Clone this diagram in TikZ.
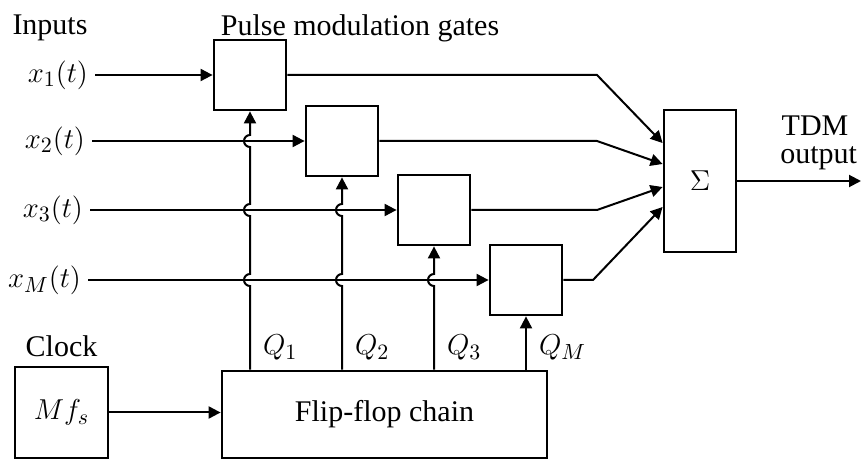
\documentclass[tikz,border=0pt]{standalone}
\usepackage{fontspec}
\setmainfont{Liberation Serif}
\usetikzlibrary{arrows.meta,calc,positioning}

\begin{document}
\begin{tikzpicture}[x=0.5pt,y=0.5pt,line join=miter,
  font=\fontsize{15}{17}\selectfont,
  gate/.style={draw,line width=1.4pt,minimum width=36pt,minimum height=35pt,inner sep=0pt},
  sig/.style={line width=1pt},
  tip/.style={-{Triangle[length=6pt,width=6pt]}}]
\path[use as bounding box] (0,0) rectangle (863,461);
\fill[white] (0,0) rectangle (863,461);

% headings
\node (inputs) at (50,433) {Inputs};
\node (pmg) at (360,433) {Pulse modulation gates};

% gates, one per input line
\node[gate] (g1) at (250,386) {};
\node[gate] (g2) at (342,320) {};
\node[gate] (g3) at (434,251) {};
\node[gate] (g4) at (526,181) {};
\node[gate,minimum height=71pt] (sum) at (700,280) {$\Sigma$};
\node[gate,minimum width=162.5pt,minimum height=43.5pt] (ff) at (384.5,46.5) {Flip-flop chain};
\node[gate,minimum width=46.5pt,minimum height=45.5pt] (clk) at (61.5,48.5) {$Mf_s$};
\node[above=1pt of clk] (clock) {Clock};

% inputs
\node[anchor=east] (x1) at (95,386) {$x_1(t)$};
\node[anchor=east] (x2) at (92,320) {$x_2(t)$};
\node[anchor=east] (x3) at (90,251) {$x_3(t)$};
\node[anchor=east] (xM) at (88,181) {$x_M(t)$};
\draw[sig,tip] (x1.east) -- (g1.west);
\draw[sig,tip] (x2.east) -- (g2.west);
\draw[sig,tip] (x3.east) -- (g3.west);
\draw[sig,tip] (xM.east) -- (g4.west);

% clock into the chain
\draw[sig,tip] (clk.east) -- (clk.east -| ff.west);

% gate pulses, hopping over the input lines
\draw[sig,tip] (g1.south |- ff.north)
  -- ($(g1.south |- xM)+(0,-6)$) arc[start angle=-90,end angle=-270,radius=3pt]
  -- ($(g1.south |- x3)+(0,-6)$) arc[start angle=-90,end angle=-270,radius=3pt]
  -- ($(g1.south |- x2)+(0,-6)$) arc[start angle=-90,end angle=-270,radius=3pt]
  -- (g1.south);
\draw[sig,tip] (g2.south |- ff.north)
  -- ($(g2.south |- xM)+(0,-6)$) arc[start angle=-90,end angle=-270,radius=3pt]
  -- ($(g2.south |- x3)+(0,-6)$) arc[start angle=-90,end angle=-270,radius=3pt]
  -- (g2.south);
\draw[sig,tip] (g3.south |- ff.north)
  -- ($(g3.south |- xM)+(0,-6)$) arc[start angle=-90,end angle=-270,radius=3pt]
  -- (g3.south);
\draw[sig,tip] (g4.south |- ff.north) -- (g4.south);
\node[above right,xshift=3pt,yshift=1pt] (q1) at (g1.south |- ff.north) {$Q_1$};
\node[above right,xshift=3pt,yshift=1pt] (q2) at (g2.south |- ff.north) {$Q_2$};
\node[above right,xshift=3pt,yshift=1pt] (q3) at (g3.south |- ff.north) {$Q_3$};
\node[above right,xshift=3pt,yshift=1pt] (qM) at (g4.south |- ff.north) {$Q_M$};

% gate outputs into the adder
\coordinate (bend) at (597,0);
\coordinate (s1) at ($(sum.west)+(0,38)$);
\coordinate (s2) at ($(sum.west)+(0,17)$);
\coordinate (s3) at ($(sum.west)+(0,-6)$);
\coordinate (s4) at ($(sum.west)+(0,-26)$);
\draw[sig,tip] (g1.east) -- (g1.east -| bend) -- (s1);
\draw[sig,tip] (g2.east) -- (g2.east -| bend) -- (s2);
\draw[sig,tip] (g3.east) -- (g3.east -| bend) -- (s3);
\draw[sig,tip] (g4.east) -- ($(g4.east -| bend)+(-4,0)$) -- (s4);

% output
\coordinate (out) at (861,280);
\draw[sig,tip] (sum.east) -- (out);
\node[inner sep=0pt] (tdm) at (815,335) {TDM};
\node[inner sep=0pt,anchor=west] (outlbl) at (780,303) {output};
\end{tikzpicture}
\end{document}
